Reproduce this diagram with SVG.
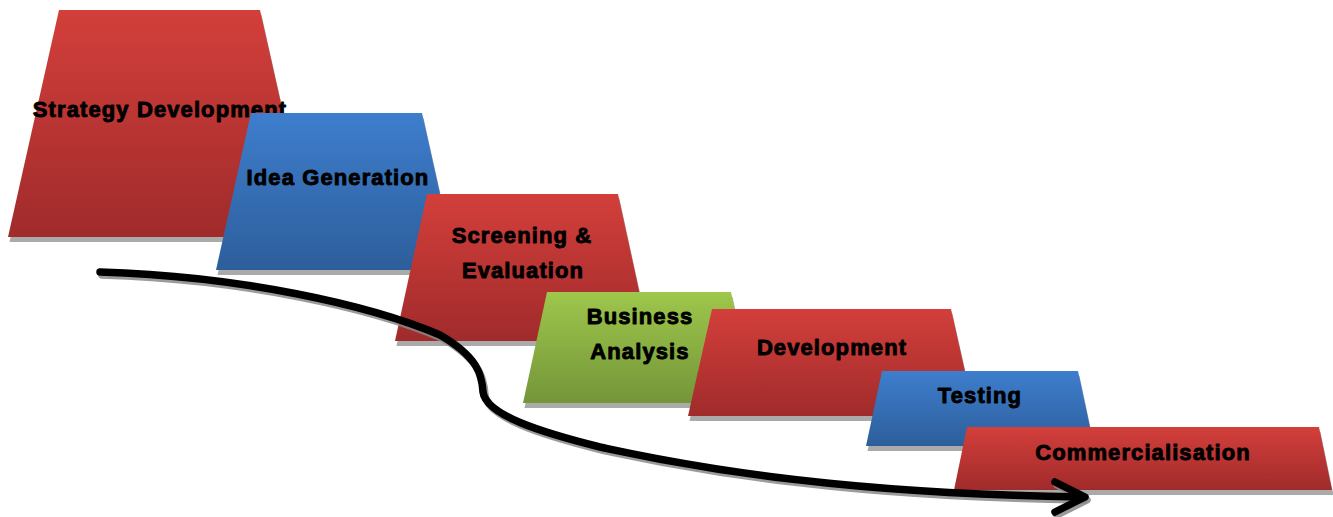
<svg xmlns="http://www.w3.org/2000/svg" width="1333" height="517" viewBox="0 0 1333 517">
  <defs>
    <linearGradient id="gRed" x1="0" y1="0" x2="0" y2="1">
      <stop offset="0" stop-color="#d33f3b"/>
      <stop offset="1" stop-color="#a02b2b"/>
    </linearGradient>
    <linearGradient id="gBlue" x1="0" y1="0" x2="0" y2="1">
      <stop offset="0" stop-color="#3e7ecd"/>
      <stop offset="1" stop-color="#2d5e9b"/>
    </linearGradient>
    <linearGradient id="gGreen" x1="0" y1="0" x2="0" y2="1">
      <stop offset="0" stop-color="#9ec74b"/>
      <stop offset="1" stop-color="#749539"/>
    </linearGradient>
    <filter id="soft" x="-5%" y="-20%" width="110%" height="140%">
      <feGaussianBlur stdDeviation="0.7"/>
    </filter>
  </defs>
  <style>
    .shadow { fill: #aaaaaa; }
    .red { fill: url(#gRed); }
    .blue { fill: url(#gBlue); }
    .green { fill: url(#gGreen); }
    .label { font-family: "Liberation Sans", Arial, sans-serif; font-weight: bold; font-size: 22px; letter-spacing: 1.1px; fill: #000; stroke: #000; stroke-width: 0.9px; stroke-linejoin: round; text-anchor: middle; }
    .flow { fill: none; stroke: #000; stroke-width: 7.5; stroke-linecap: round; stroke-linejoin: round; }
    .flow-shadow { fill: none; stroke: #8a8a8a; stroke-width: 7.5; stroke-linecap: round; stroke-linejoin: round; opacity: 0.85; }
  </style>

  <!-- stage 1 -->
  <g id="strategy-development">
    <polygon class="shadow" points="60.5,15 261.5,15 312.5,242 9.5,242"/>
    <polygon class="red" points="59,10 260,10 311,237 8,237"/>
    <text class="label" x="160" y="117">Strategy Development</text>
  </g>

  <!-- stage 2 -->
  <g id="idea-generation">
    <polygon class="shadow" points="252.5,118 423.5,118 458.5,275 217.5,275"/>
    <polygon class="blue" points="251,113 422,113 457,270 216,270"/>
    <text class="label" x="338" y="185">Idea Generation</text>
  </g>

  <!-- stage 3 -->
  <g id="screening-evaluation">
    <polygon class="shadow" points="428.5,199 619.5,199 651.5,346 396.5,346"/>
    <polygon class="red" points="427,194 618,194 650,341 395,341"/>
    <text class="label" x="522" y="243">Screening &amp;</text>
    <text class="label" x="523" y="278">Evaluation</text>
  </g>

  <!-- stage 4 -->
  <g id="business-analysis">
    <polygon class="shadow" points="548.5,297 732.5,297 756.5,408 524.5,408"/>
    <polygon class="green" points="547,292 731,292 755,403 523,403"/>
    <text class="label" x="640" y="324">Business</text>
    <text class="label" x="640" y="359">Analysis</text>
  </g>

  <!-- stage 5 -->
  <g id="development">
    <polygon class="shadow" points="713.5,314 952.5,314 976.5,421 689.5,421"/>
    <polygon class="red" points="712,309 951,309 975,416 688,416"/>
    <text class="label" x="832" y="355">Development</text>
  </g>

  <!-- stage 6 -->
  <g id="testing">
    <polygon class="shadow" points="883.5,376 1079.5,376 1095.5,451 867.5,451"/>
    <polygon class="blue" points="882,371 1078,371 1094,446 866,446"/>
    <text class="label" x="980" y="403">Testing</text>
  </g>

  <!-- stage 7 -->
  <g id="commercialisation">
    <polygon class="shadow" points="968.5,432 1320.5,432 1333.5,495 955.5,495"/>
    <polygon class="red" points="967,427 1319,427 1332,490 954,490"/>
    <text class="label" x="1143" y="460">Commercialisation</text>
  </g>

  <!-- process flow arrow -->
  <g id="connectors">
    <g transform="translate(2,3)" filter="url(#soft)">
      <path class="flow-shadow" d="M100,272 C240,276 370,305 440,335 C478,357 482,375 483,392 C486,415 540,432 600,447 C750,480 900,494 1082,497"/>
      <polyline class="flow-shadow" points="1055,482 1085,497 1055,512"/>
    </g>
    <path class="flow" d="M100,272 C240,276 370,305 440,335 C478,357 482,375 483,392 C486,415 540,432 600,447 C750,480 900,494 1082,497"/>
    <polyline class="flow" points="1055,482 1085,497 1055,512"/>
  </g>
</svg>
